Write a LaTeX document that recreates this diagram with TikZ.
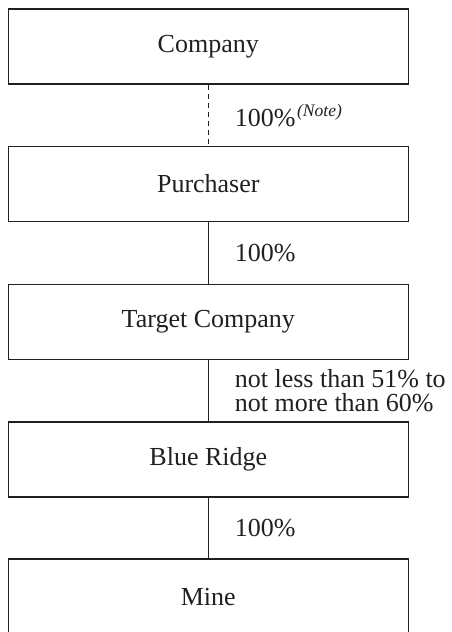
\documentclass[tikz,border=0pt]{standalone}
\usepackage{fontspec}
\setmainfont{Liberation Serif}
\usetikzlibrary{positioning}
\definecolor{ink}{HTML}{231F20}
\tikzset{
	entity/.style={draw=ink, line width=1.1pt, inner sep=0pt, minimum width=400pt, minimum height=75pt, text=ink, font=\fontsize{26}{24.5}\selectfont},
	link/.style={draw=ink, line width=1.1pt},
	share/.style={midway, anchor=west, inner sep=0pt, xshift=26pt, text=ink, align=left, font=\fontsize{26}{24.5}\selectfont}
}
\begin{document}
\begin{tikzpicture}[x=1pt, y=-1pt]
			%%%%% START %%%%%
			\useasboundingbox (0, 0) rectangle (451, 632);
			
			\node[entity] (company) at (208.3, 46.5) {Company};
			\node[entity] (purchaser) at (208.3, 184) {Purchaser};
			\node[entity] (target) at (208.3, 322) {Target Company};
			\node[entity] (blueridge) at (208.3, 459.5) {Blue Ridge};
			\node[entity, minimum height=77pt] (mine) at (208.3, 597.5) {Mine};
			
			\draw[link, dash pattern=on 5pt off 4pt] (company) -- node[share] {100\%\hspace{1.5pt}\raisebox{10pt}{\fontsize{17.6}{18}\selectfont\itshape (Note)}} (purchaser);
			\draw[link] (purchaser) -- node[share] {100\%} (target);
			\draw[link] (target) -- node[share] {not less than 51\% to\\not more than 60\%} (blueridge);
			\draw[link] (blueridge) -- node[share] {100\%} (mine);
			
			%%%%% END %%%%%
		\end{tikzpicture}
\end{document}
